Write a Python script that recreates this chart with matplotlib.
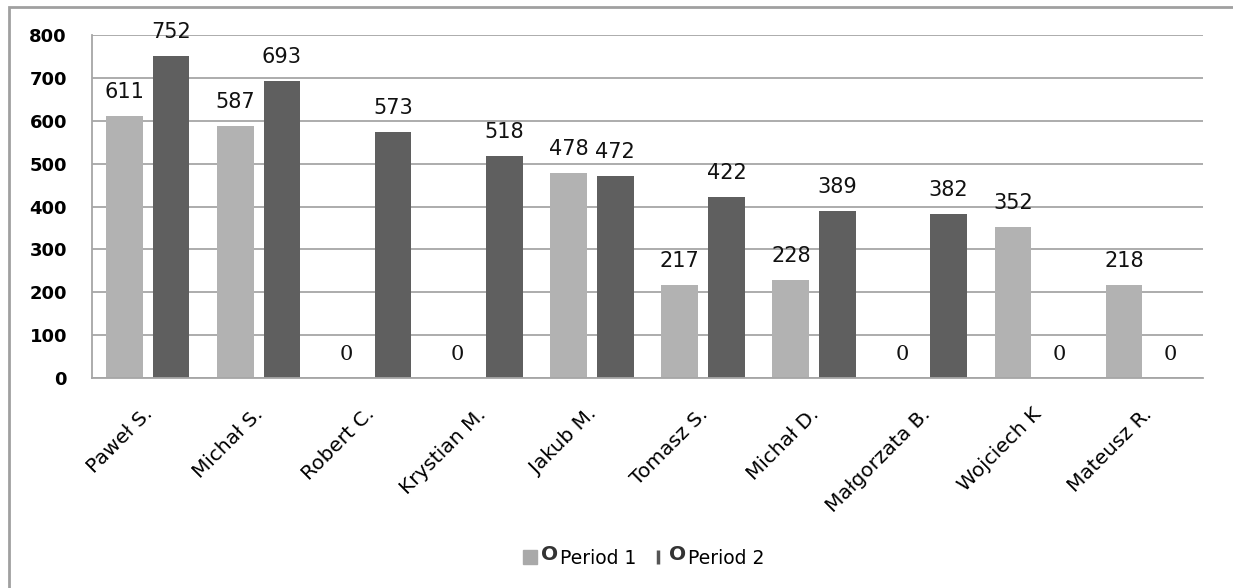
import numpy as np
import matplotlib
matplotlib.use("Agg")
import matplotlib.pyplot as plt
import matplotlib.transforms as mtransforms
from matplotlib.lines import Line2D
from matplotlib.patches import Rectangle
from matplotlib.text import Annotation

names   = ["Paweł S.", "Michał S.", "Robert C.", "Krystian M.", "Jakub M.",
           "Tomasz S.", "Michał D.", "Małgorzata B.", "Wojciech K", "Mateusz R."]
period1 = [611, 587, 0, 0, 478, 217, 228, 0, 352, 218]
period2 = [752, 693, 573, 518, 472, 422, 389, 382, 0, 0]
yticks  = [0, 100, 200, 300, 400, 500, 600, 700, 800]

c1, c2 = "#b2b2b2", "#5f5f5f"
gridc = "#a6a6a6"

fig = plt.figure(figsize=(12.33, 5.88), dpi=100)
ax = fig.add_axes([92/1233, 1-378/588, (1203-92)/1233, (378-35)/588])

# outer frame (only left and top edges visible)
fig.patches.append(Rectangle((9/1233, -0.2), 1.2, 1.2 - 7/588, transform=fig.transFigure,
                             fill=False, edgecolor="#a0a0a0", linewidth=2))

x = np.arange(len(names))
w, off = 0.33, 0.21
b1 = ax.bar(x - off, period1, w, color=c1, zorder=2)
b2 = ax.bar(x + off, period2, w, color=c2, zorder=2)

for bars, vals in [(b1, period1), (b2, period2)]:
    for r, v in zip(bars, vals):
        fam = "DejaVu Serif" if v == 0 else "DejaVu Sans"
        ax.annotate(str(v), (r.get_x() + r.get_width()/2, v), xytext=(0, 10),
                    textcoords="offset points", ha="center", va="bottom",
                    fontsize=15, family=fam, color="#111111")

ax.set_xlim(-0.5, len(names) - 0.5)
ax.set_ylim(0, 800)
ax.set_yticks(yticks)
ax.yaxis.grid(True, color=gridc, linewidth=1.3, zorder=0)
ax.set_axisbelow(True)
for s in ["top", "right"]:
    ax.spines[s].set_visible(False)
for s in ["left", "bottom"]:
    ax.spines[s].set_color(gridc)
    ax.spines[s].set_linewidth(1.3)

ax.tick_params(axis="y", length=0, pad=18, labelsize=13)
for lab in ax.get_yticklabels():
    lab.set_fontweight("bold")
ax.set_xticks(x)
ax.set_xticklabels(names, rotation=45, ha="right", rotation_mode="anchor", fontsize=14.5)
ax.tick_params(axis="x", length=0, pad=19)
shift = mtransforms.ScaledTranslation(-5/100, 0, fig.dpi_scale_trans)
for lab in ax.get_xticklabels():
    lab.set_transform(lab.get_transform() + shift)

handles = [Line2D([], [], marker="s", linestyle="none", color="#a9a9a9", markersize=9.5),
           Line2D([], [], marker="|", linestyle="none", color="#555555", markersize=9.5,
                  markeredgewidth=2.5)]
leg = fig.legend(handles, ["Period 1", "Period 2"], loc="center", ncol=2,
                 bbox_to_anchor=(0.522, 0.051), frameon=False, fontsize=13.5,
                 handlelength=0.7, handletextpad=1.25, columnspacing=0.8)
for t in leg.get_texts():
    a = Annotation("O", xy=(0, 1), xycoords=t, xytext=(-1, 2.5), textcoords="offset points",
                   ha="right", va="top", fontsize=14.5, fontweight="bold", color="#333333")
    a.set_zorder(10)
    fig.add_artist(a)

fig.savefig("out.png", dpi=100)
